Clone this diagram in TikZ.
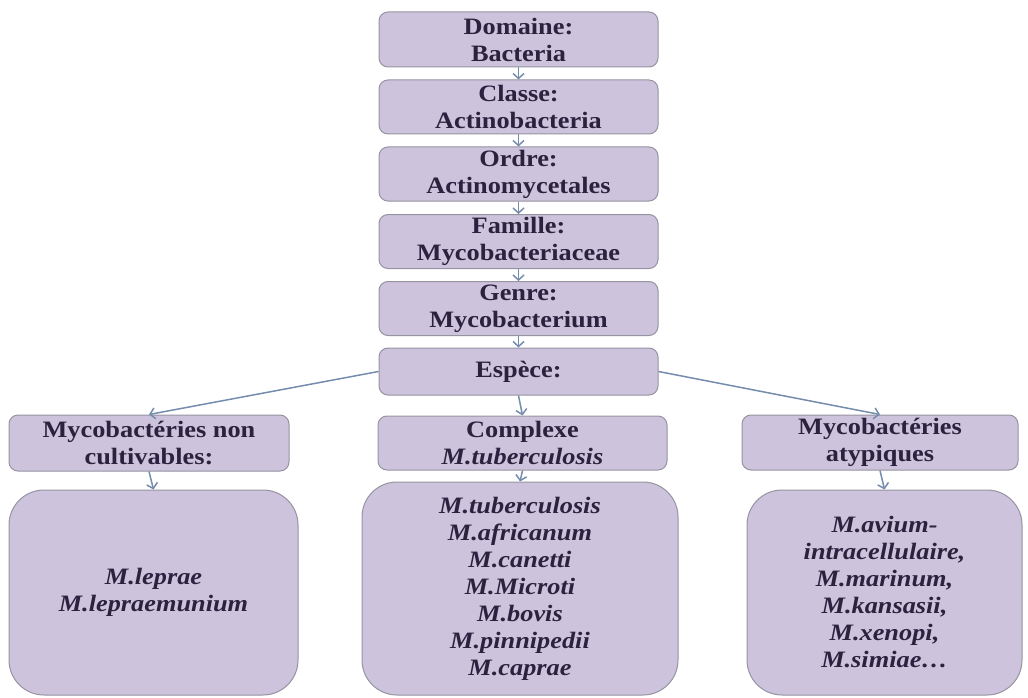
\documentclass[tikz,border=0pt]{standalone}
\usepackage{fontspec}
\setmainfont{Liberation Serif}[FakeStretch=1.12]
\usetikzlibrary{arrows.meta}
\definecolor{boxfill}{RGB}{205,195,220}
\definecolor{boxline}{RGB}{150,147,162}
\definecolor{txt}{RGB}{44,34,64}
\definecolor{arr}{RGB}{118,140,172}
\tikzset{
  box/.style={draw=boxline, line width=1pt, fill=boxfill, rounded corners=9pt,
    inner sep=0pt, align=center, text=txt,
    font=\fontsize{23.5}{27}\selectfont\bfseries},
  bigbox/.style={box, rounded corners=35pt, font=\fontsize{23.5}{27}\selectfont\bfseries\itshape},
  link/.style={draw=arr, line width=1.5pt, -{Straight Barb[length=5pt,width=11pt]}}
}
\begin{document}
\begin{tikzpicture}[x=1pt,y=-1pt]
\useasboundingbox (0,0) rectangle (1028,698);
% top chain
\node[box, minimum width=279pt, minimum height=55pt] (dom) at (518.5,39.5) {Domaine:\\Bacteria};
\node[box, minimum width=279pt, minimum height=54pt] (cla) at (518.5,107) {Classe:\\Actinobacteria};
\node[box, minimum width=279pt, minimum height=54pt] (ord) at (518.5,174) {Ordre:\\Actinomycetales};
\node[box, minimum width=279pt, minimum height=54pt] (fam) at (518.5,241.5) {Famille:\\Mycobacteriaceae};
\node[box, minimum width=279pt, minimum height=54pt] (gen) at (518.5,308.5) {Genre:\\Mycobacterium};
\node[box, minimum width=279pt, minimum height=47pt] (esp) at (518.5,371.5) {Espèce:};
% middle row
\node[box, minimum width=280pt, minimum height=56pt] (nc) at (149,443) {Mycobactéries non\\cultivables:};
\node[box, minimum width=289pt, minimum height=54pt] (cpx) at (522.5,443) {Complexe\\\textit{M.tuberculosis}};
\node[box, minimum width=276pt, minimum height=55pt] (aty) at (880,442.5) {Mycobactéries\\atypiques};
% bottom row
\node[bigbox, minimum width=289pt, minimum height=205pt] (lep) at (153.5,592.5) {M.leprae\\M.lepraemunium};
\node[bigbox, minimum width=316pt, minimum height=213pt] (tub) at (520,588.5) {\raisebox{-6pt}{\parbox[c]{260pt}{\centering M.tuberculosis\\M.africanum\\M.canetti\\M.Microti\\M.bovis\\M.pinnipedii\\M.caprae}}};
\node[bigbox, minimum width=275pt, minimum height=205pt] (oth) at (884.5,592.5) {M.avium-\\intracellulaire,\\M.marinum,\\M.kansasii,\\M.xenopi,\\M.simiae…};
% connectors
\draw[link] (dom.south) -- (cla.north);
\draw[link] (cla.south) -- (ord.north);
\draw[link] (ord.south) -- (fam.north);
\draw[link] (fam.south) -- (gen.north);
\draw[link] (gen.south) -- (esp.north);
\draw[link] (esp.west) -- (nc.north);
\draw[link] (esp.south) -- (cpx.north);
\draw[link] (esp.east) -- (aty.north);
\draw[link] (nc.south) -- (lep.north);
\draw[link] (cpx.south) -- (tub.north);
\draw[link] (aty.south) -- (oth.north);
\end{tikzpicture}
\end{document}
